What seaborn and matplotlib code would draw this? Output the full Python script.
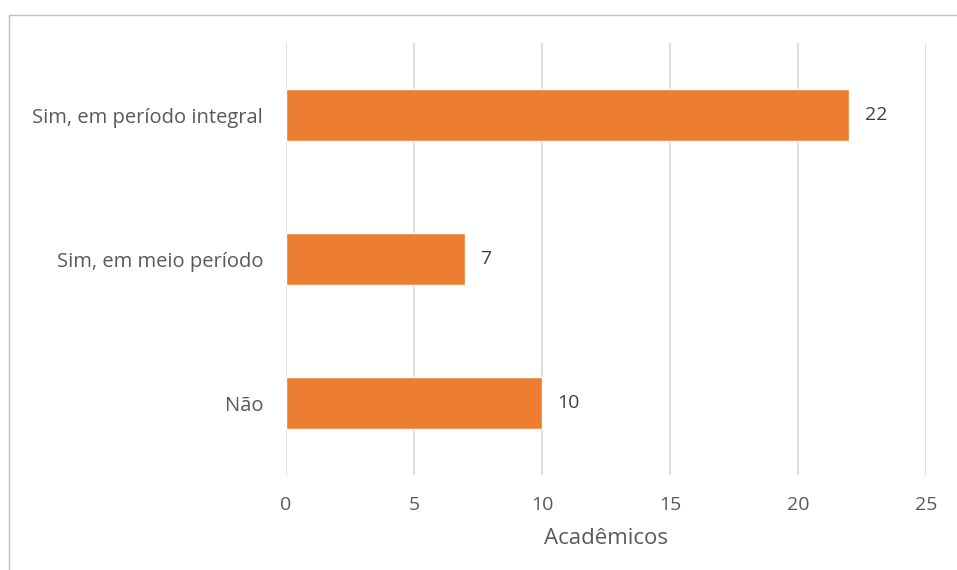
import matplotlib
matplotlib.use("Agg")
import matplotlib.pyplot as plt
import seaborn as sns
import pandas as pd
from matplotlib.lines import Line2D

categorias = ["Sim, em período integral", "Sim, em meio período", "Não"]
academicos = [22, 7, 10]
ticks_x = [0, 5, 10, 15, 20, 25]

sns.set_theme(style="white")
plt.rcParams["font.family"] = ["Open Sans", "DejaVu Sans"]

df = pd.DataFrame({"categoria": categorias, "valor": academicos})

fig = plt.figure(figsize=(9.57, 5.70), dpi=100)
ax = fig.add_axes([286 / 957, 1 - 475 / 570, (926 - 286) / 957, (475 - 43) / 570])

sns.barplot(data=df, x="valor", y="categoria", orient="h", color="#ED7D31",
            width=0.36, saturation=1, ax=ax, zorder=3)

ax.set_xlim(0, 25)
ax.set_ylim(2.5, -0.5)
ax.set_xticks(ticks_x)
ax.set_xticklabels([str(t) for t in ticks_x])
ax.grid(axis="x", color="#D9D9D9", linewidth=1.2, zorder=0)
ax.grid(axis="y", visible=False)
for s in ax.spines.values():
    s.set_visible(False)
ax.tick_params(axis="both", length=0, colors="#595959")
ax.tick_params(axis="x", pad=15, labelsize=14)
ax.tick_params(axis="y", pad=16.5, labelsize=14.5)
ax.set_ylabel("")
ax.set_xlabel("Acadêmicos", color="#595959", fontsize=16, labelpad=10)

for i, v in enumerate(academicos):
    ax.text(v + 0.6, i, str(v), va="center", ha="left", color="#404040", fontsize=14)

# chart frame (top and left borders)
fig.add_artist(Line2D([9 / 957, 957 / 957], [1 - 15 / 570, 1 - 15 / 570],
                      color="#BFBFBF", linewidth=1, transform=fig.transFigure))
fig.add_artist(Line2D([9 / 957, 9 / 957], [0, 1 - 15 / 570],
                      color="#BFBFBF", linewidth=1, transform=fig.transFigure))

fig.savefig("out.png", dpi=100, facecolor="white")
